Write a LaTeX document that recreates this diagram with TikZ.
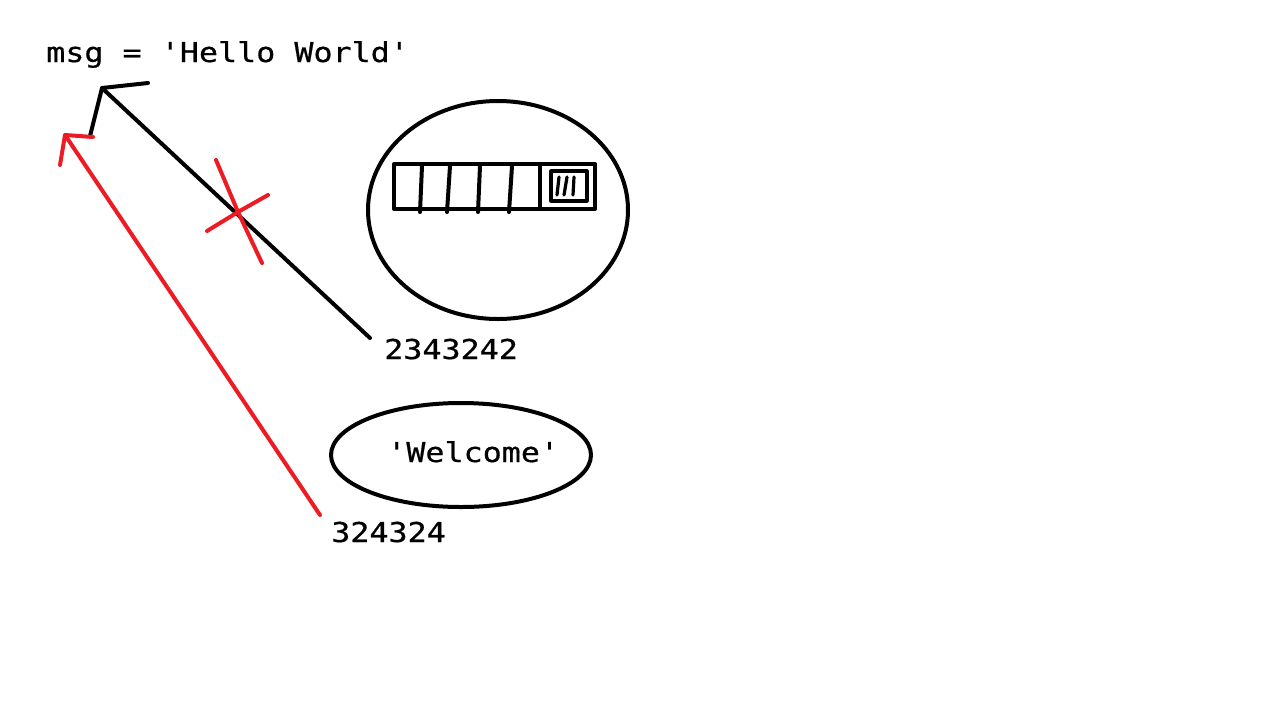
\documentclass[tikz,border=0pt]{standalone}
\usepackage{fontspec}
\usetikzlibrary{shapes.geometric}
\newfontfamily\codefont[FakeStretch=1.16, FakeBold=0.6]{DejaVu Sans Mono}
\definecolor{paintred}{RGB}{237,28,36}

\begin{document}
\begin{tikzpicture}[
    x=0.75pt, y=-0.75pt,
    code_text/.style={font=\codefont\fontsize{20.5}{24}\selectfont, inner sep=0pt, anchor=base west},
    pen/.style={line width=3pt, line cap=round, line join=round},
    thin_pen/.style={line width=2.4pt, line cap=round, line join=round},
    red_pen/.style={pen, draw=paintred},
    blob/.style={ellipse, draw, line width=3pt, inner sep=0pt}
]
    \fill[white] (0,0) rectangle (1285,718);
    \useasboundingbox (0,0) rectangle (1285,718);

    % texts
    \node[code_text] (msg) at (46,62) {msg = 'Hello World'};
    \node[code_text] (addrA) at (384,359) {2343242};
    \node[code_text] (addrB) at (331,542) {324324};

    % objects
    \node[blob, minimum width=195pt, minimum height=163.5pt] (objA) at (498,210) {};
    \node[blob, minimum width=195pt, minimum height=78pt] (objB) at (461,455) {};
    \node[code_text] (word) at (387,462) {'Welcome'};

    % list inside first object
    \draw[pen] (394,164) rectangle (595,209);
    \draw[pen] (422,166) -- (420,212);
    \draw[pen] (450,166) -- (447,212);
    \draw[pen] (480,166) -- (478,212);
    \draw[pen] (512,166) -- (509,212);
    \draw[pen] (540,164) -- (540,209);
    \draw[thin_pen] (551,171) rectangle (587,201);
    \draw[thin_pen] (559,177) -- (557,195);
    \draw[thin_pen] (567,177) -- (564,195);
    \draw[thin_pen] (574,177) -- (573,195);

    % old reference
    \coordinate (startA) at (370,338);
    \coordinate (tipA) at (102,88);
    \draw[pen] (startA) -- (tipA);
    \draw[pen] (148,83) -- (tipA) -- (90,136);

    % crossed out
    \coordinate (cross) at (238,212);
    \draw[red_pen] (216,160) -- (cross) -- (262,263);
    \draw[red_pen] (207,231) -- (cross) -- (268,195);

    % new reference
    \coordinate (startB) at (320,515);
    \coordinate (tipB) at (65,135);
    \draw[red_pen] (startB) -- (tipB);
    \draw[red_pen] (93,137) -- (tipB) -- (60,165);
\end{tikzpicture}
\end{document}
